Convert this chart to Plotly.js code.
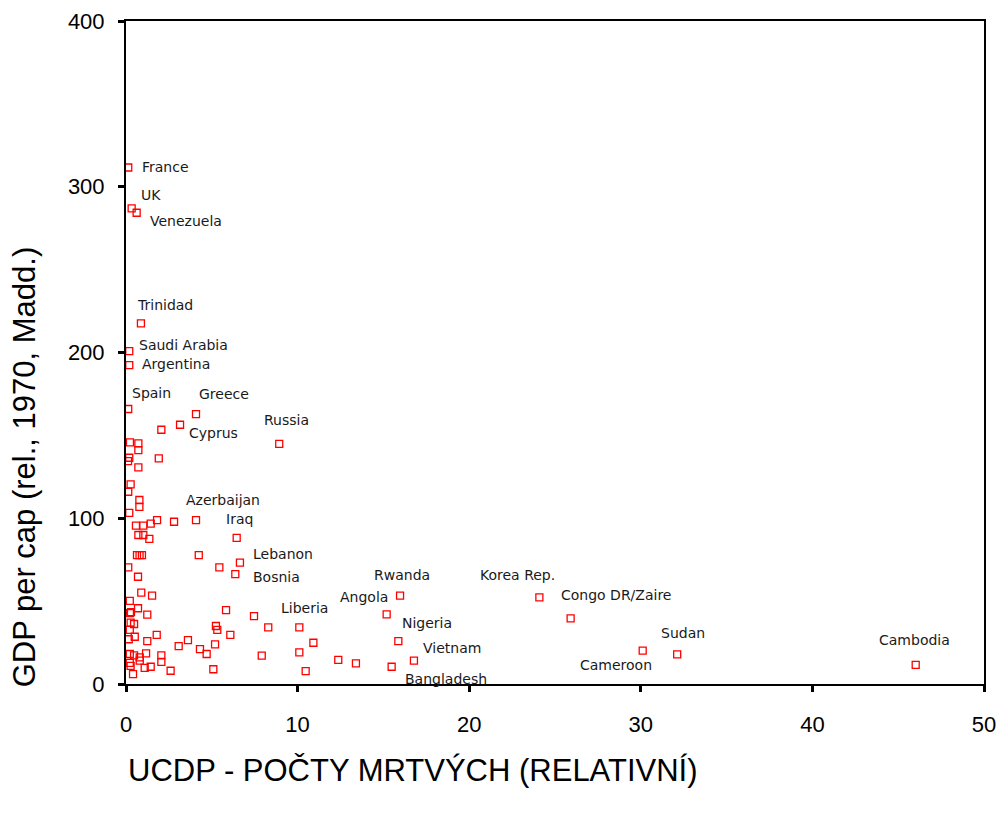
<!DOCTYPE html>
<html>
<head>
<meta charset="utf-8">
<script src="https://cdn.plot.ly/plotly-3.0.1.min.js"></script>
<style>html,body{margin:0;padding:0;background:#fff;}</style>
</head>
<body>
<div id="chart" style="width:1003px;height:814px;"></div>
<script>
// Labelled countries
var labeledNames = ["France","UK","Venezuela","Trinidad","Saudi Arabia","Argentina","Spain","Greece","Cyprus","Russia",
  "Azerbaijan","Iraq","Lebanon","Bosnia","Liberia","Angola","Rwanda","Nigeria","Vietnam","Bangladesh",
  "Korea Rep.","Congo DR/Zaire","Cameroon","Sudan","Cambodia"];
var labeledDeaths = [0.13,0.33,0.62,0.87,0.19,0.19,0.13,4.08,3.15,8.93,
  4.08,6.45,6.64,6.37,10.10,15.19,15.97,15.87,16.78,15.48,
  24.09,25.91,30.11,32.12,46.02];
var labeledGdp = [311.6,286.9,284.3,217.6,200.8,192.4,165.9,162.8,156.4,144.9,
  98.9,88.2,73.2,66.3,34.2,42.0,53.3,25.9,14.1,10.4,
  52.3,39.6,20.1,17.9,11.5];

// Unlabelled countries
var otherDeaths = [2.06,0.23,0.72,0.72,0.19,0.12,1.91,0.72,0.27,0.13,0.78,0.78,0.19,0.58,1.01,1.44,1.81,2.80,
  0.72,1.01,1.36,4.24,0.64,0.79,0.93,5.44,0.13,0.70,0.89,1.52,0.22,0.70,0.29,0.23,1.24,5.83,7.46,8.29,
  5.24,5.32,0.27,0.47,0.22,0.51,0.16,1.24,1.79,3.61,3.07,5.19,4.31,4.70,6.08,10.92,10.10,7.91,12.37,
  10.47,5.09,2.60,0.22,0.47,0.80,0.80,1.17,2.06,2.06,0.22,0.27,1.09,1.44,0.41,13.40];
var otherGdp = [153.4,145.8,145.2,141.1,136.5,134.5,136.1,130.7,120.4,116.0,111.0,106.9,103.3,95.5,95.5,96.7,98.9,97.9,
  89.9,89.9,87.5,77.8,77.8,77.8,77.8,70.4,70.4,64.7,55.1,53.3,50.2,45.7,43.4,42.8,41.8,44.6,41.0,34.2,
  35.0,32.6,37.0,36.2,32.6,28.5,27.0,25.9,29.6,26.5,22.9,23.9,21.1,18.1,29.6,24.9,19.1,17.1,14.5,
  7.8,8.9,8.0,18.1,17.3,16.1,14.1,18.5,17.3,13.3,12.8,10.9,9.7,10.4,5.9,12.5];

var xTickVals = [0,10,20,30,40,50];
var yTickVals = [0,100,200,300,400];
var xTitle = "UCDP - POČTY MRTVÝCH (RELATIVNÍ)";
var yTitle = "GDP per cap (rel., 1970, Madd.)";

// label offsets in pixels relative to the point (dx right, dy up)
var labelDx = [12,7,11,-6,8,11,2,1,7,-17, -12,-13,11,16,-20,-49,-28,2,7,11, -61,-12,-65,-18,-39];
var labelDy = [1,13,-8,18,6,1,16,20,-8,24, 20,19,9,-3,19,17,21,18,13,-12, 22,23,-14,21,25];

var trace = {
  type: "scatter",
  mode: "markers",
  x: labeledDeaths.concat(otherDeaths),
  y: labeledGdp.concat(otherGdp),
  marker: {symbol: "square-open", size: 7, color: "#ff0000", line: {width: 1.3, color: "#ff0000"}},
  hoverinfo: "x+y",
  showlegend: false
};

var annotations = labeledNames.map(function (n, i) {
  return {
    x: labeledDeaths[i], y: labeledGdp[i], xref: "x", yref: "y",
    text: n, showarrow: false, xanchor: "left", yanchor: "middle",
    xshift: labelDx[i], yshift: labelDy[i],
    font: {family: "DejaVu Sans, Verdana, sans-serif", size: 14, color: "#1a1a1a"}
  };
});
annotations.push({
  xref: "paper", yref: "paper", x: 0, y: -0.13, xanchor: "left", yanchor: "middle",
  text: xTitle, showarrow: false,
  font: {family: "Liberation Sans, Arial, sans-serif", size: 31, color: "#000"}
});
annotations.push({
  xref: "paper", yref: "paper", x: -0.118, y: 0.328, xanchor: "center", yanchor: "middle",
  text: yTitle, showarrow: false, textangle: -90,
  font: {family: "Liberation Sans, Arial, sans-serif", size: 31, color: "#000"}
});

var tickFont = {family: "Liberation Sans, Arial, sans-serif", size: 22, color: "#000"};

var layout = {
  width: 1003, height: 814,
  margin: {l: 126, r: 19, t: 21, b: 130},
  paper_bgcolor: "#fff", plot_bgcolor: "#fff",
  xaxis: {
    range: [0, 50], tickvals: xTickVals, ticks: "outside", ticklen: 6, tickwidth: 3, tickcolor: "#000",
    showline: true, mirror: true, linecolor: "#000", linewidth: 2, showgrid: false, zeroline: false,
    tickfont: tickFont, ticklabelstandoff: 14
  },
  yaxis: {
    range: [0, 400], tickvals: yTickVals, ticks: "outside", ticklen: 6, tickwidth: 3, tickcolor: "#000",
    showline: true, mirror: true, linecolor: "#000", linewidth: 2, showgrid: false, zeroline: false,
    tickfont: tickFont, ticklabelstandoff: 9
  },
  annotations: annotations
};

Plotly.newPlot("chart", [trace], layout, {displayModeBar: false, staticPlot: true});
</script>
</body>
</html>
